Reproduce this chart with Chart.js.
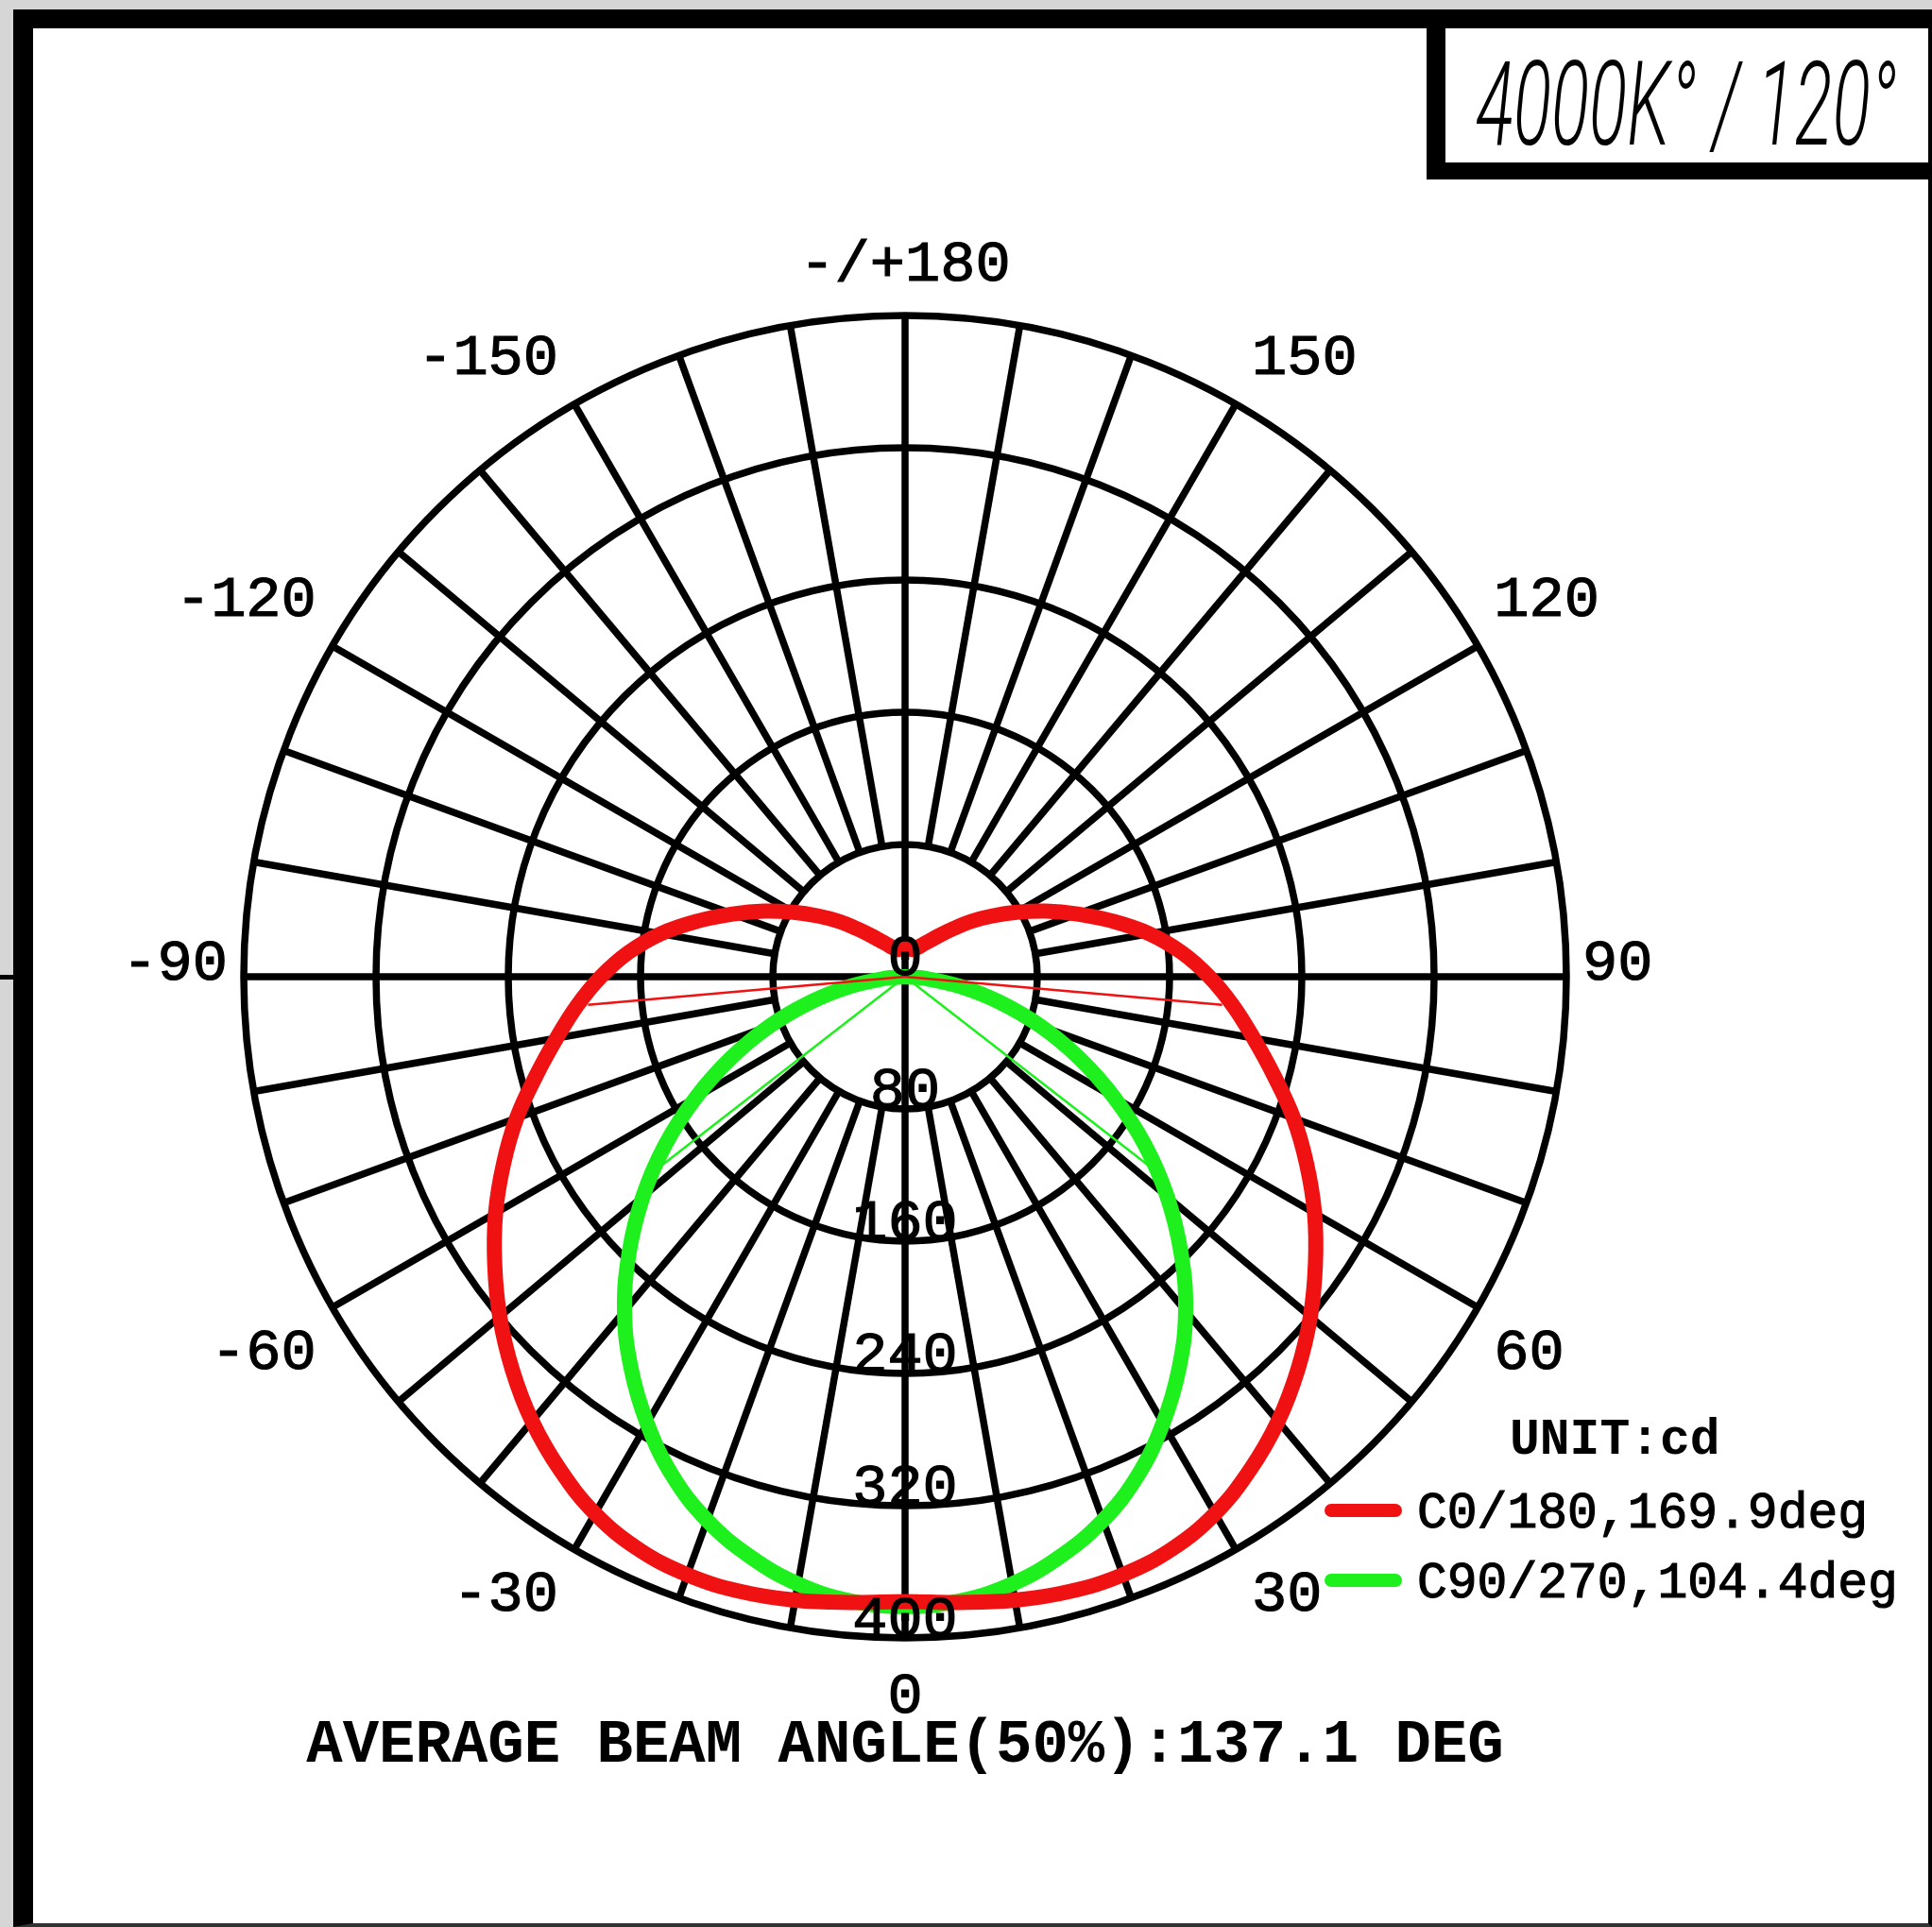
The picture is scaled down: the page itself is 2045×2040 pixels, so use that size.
<!DOCTYPE html>
<html>
<head>
<meta charset="utf-8">
<title>Polar intensity curve</title>
<script src="https://cdn.jsdelivr.net/npm/chart.js@4.4.1/dist/chart.umd.min.js"></script>
<style>
  html, body { margin: 0; padding: 0; }
  body { width: 2045px; height: 2040px; background: #d6d6d6; position: relative; overflow: hidden; }
  #sheet {
    position: absolute; left: 14px; top: 10px; width: 2031px; height: 2030px;
    box-sizing: border-box; background: #fff;
    border-left: 21px solid #000; border-top: 20px solid #000;
    border-right: 4px solid #000; border-bottom: 4px solid #333;
  }
  #stub { position: absolute; left: 0; top: 1032px; width: 14px; height: 5px; background: #000; }
  #badge {
    position: absolute; left: 1510px; top: 10px; width: 535px; height: 180px;
    box-sizing: border-box; border-left: 20px solid #000; border-bottom: 18px solid #000;
  }
  #badge span {
    position: absolute; left: 32px; top: 39px; white-space: pre;
    font: italic 300 124px/1 Roboto, "Liberation Sans", sans-serif;
    transform: scaleX(0.6); transform-origin: left top; color: #000;
  }
  canvas { position: absolute; left: 0; top: 0; }
  .txt { position: absolute; white-space: pre; color: #000; font-family: "Liberation Mono", "Courier New", monospace; line-height: 1; }
  .entry { -webkit-text-stroke: 1.2px #000; }
  .swatch { position: absolute; left: 1402px; width: 82px; height: 14px; border-radius: 7px; }
</style>
</head>
<body>
<div id="sheet"></div>
<div id="stub"></div>
<div id="badge"><span>4000K° / 120°</span></div>
<canvas id="polarChart" width="2045" height="2040"></canvas>
<div class="txt" style="left:1598px; top:1499px; font-size:53px; font-weight:bold;">UNIT:cd</div>
<div class="swatch" style="top:1592px; background:#f01212;"></div>
<div class="txt entry" id="legend-c0" style="left:1500px; top:1577px; font-size:53px;"></div>
<div class="swatch" style="top:1666px; background:#1ef01e;"></div>
<div class="txt entry" id="legend-c90" style="left:1500px; top:1651px; font-size:53px;"></div>
<div class="txt" id="caption" style="left:958px; top:1816px; font-size:64px; font-weight:bold; transform:translateX(-50%);"></div>
<script>
// gamma angles, 0 = straight down, 180 = straight up
const ANGLES = [
  -180, -175, -170, -165, -160, -155, -150, -145, -140, -135, -130, -125,
  -120, -115, -110, -105, -100, -95, -90, -85, -80, -75, -70, -65,
  -60, -55, -50, -45, -40, -35, -30, -25, -20, -15, -10, -5,
  0, 5, 10, 15, 20, 25, 30, 35, 40, 45, 50, 55,
  60, 65, 70, 75, 80, 85, 90, 95, 100, 105, 110, 115,
  120, 125, 130, 135, 140, 145, 150, 155, 160, 165, 170, 175, 180,
]
// intensity in cd, C0/180 plane
const C0_VALUES = [
  17, 17, 17, 17, 18, 20, 23, 27, 33, 41, 52, 64,
  78, 94, 111, 130, 150, 168, 184, 199, 214, 231, 250, 268,
  286, 303, 320, 336, 351, 364, 375, 382, 385, 385, 383, 380,
  378, 380, 383, 385, 385, 382, 375, 364, 351, 336, 320, 303,
  286, 268, 250, 231, 214, 199, 184, 168, 150, 130, 111, 94,
  78, 64, 52, 41, 33, 27, 23, 20, 18, 17, 17, 17, 17,
]
// intensity in cd, C90/270 plane
const C90_VALUES = [
  0, 0, 0, 0, 0, 0, 0, 0, 0, 0, 0, 0,
  0, 0, 0, 0, 0, 0, 0, 13, 34, 59, 87, 116,
  146, 177, 207, 236, 264, 289, 312, 333, 350, 363, 373, 379,
  381, 379, 373, 363, 350, 333, 312, 289, 264, 236, 207, 177,
  146, 116, 87, 59, 34, 13, 0, 0, 0, 0, 0, 0,
  0, 0, 0, 0, 0, 0, 0, 0, 0, 0, 0, 0, 0,
]
const SERIES_NAMES = ['C0/180', 'C90/270']
const BEAM_ANGLES = [169.9, 104.4]
const AVERAGE_BEAM = 137.1
const SERIES_COLORS = ['#f01212', '#1ef01e']

const RING_VALUES = [80, 160, 240, 320, 400]
const TICK_LABELS = ['0', '80', '160', '240', '320', '400']
const SPOKE_ANGLES = [
  -170, -160, -150, -140, -130, -120, -110, -100, -90, -80, -70, -60,
  -50, -40, -30, -20, -10, 0, 10, 20, 30, 40, 50, 60,
  70, 80, 90, 100, 110, 120, 130, 140, 150, 160, 170, 180,
]
const LABEL_ANGLES = [180, -150, -120, -90, -60, -30, 0, 30, 60, 90, 120, 150]
const ANGLE_LABELS = ['-/+180', '-150', '-120', '-90', '-60', '-30', '0', '30', '60', '90', '120', '150']

const LABEL_FONT = 62
const TICK_FONT = 62
const DIGIT_HEIGHT = 0.66

function toRad(deg) {
  return (deg * Math.PI) / 180
}

function polarPoint(deg, value) {
  const a = toRad(deg)
  return { x: value * Math.sin(a), y: -value * Math.cos(a) }
}

function toPoints(values) {
  return ANGLES.map((deg, i) => polarPoint(deg, values[i]))
}

function halfBeamLine(values, beam, side) {
  const half = Math.max(...values) / 2
  return [polarPoint(0, 0), polarPoint((side * beam) / 2, half)]
}

function pixelFor(chart, deg, value) {
  const p = polarPoint(deg, value)
  return {
    x: chart.scales.x.getPixelForValue(p.x),
    y: chart.scales.y.getPixelForValue(p.y),
  }
}

function drawText(ctx, text, x, y) {
  ctx.fillText(text, x, y)
  ctx.strokeText(text, x, y)
}

const polarGrid = {
  id: 'polarGrid',
  beforeDatasetsDraw(chart) {
    const { ctx } = chart
    const centre = pixelFor(chart, 0, 0)
    const outer = RING_VALUES[RING_VALUES.length - 1]

    ctx.save()
    ctx.strokeStyle = '#000'
    ctx.lineWidth = 7.5
    RING_VALUES.forEach((value) => {
      const radius = pixelFor(chart, 90, value).x - centre.x
      ctx.beginPath()
      ctx.arc(centre.x, centre.y, radius, 0, Math.PI * 2)
      ctx.stroke()
    })

    SPOKE_ANGLES.forEach((deg) => {
      // only the two main axes run through the centre
      const inner = deg % 90 === 0 ? 0 : RING_VALUES[0]
      const from = pixelFor(chart, deg, inner)
      const to = pixelFor(chart, deg, outer)
      ctx.beginPath()
      ctx.moveTo(from.x, from.y)
      ctx.lineTo(to.x, to.y)
      ctx.stroke()
    })
    ctx.restore()
  },
  afterDatasetsDraw(chart) {
    const { ctx } = chart
    const outer = RING_VALUES[RING_VALUES.length - 1]

    ctx.save()
    ctx.fillStyle = '#000'
    ctx.strokeStyle = '#000'
    ctx.lineWidth = 1.2
    ctx.textBaseline = 'alphabetic'

    // intensity ticks, read downwards along the 0 axis
    ctx.font = `${TICK_FONT}px "Liberation Mono"`
    ctx.textAlign = 'center'
    TICK_LABELS.forEach((label) => {
      const p = pixelFor(chart, 0, Number(label))
      drawText(ctx, label, p.x, p.y - 2)
    })

    // gamma angle labels round the outside
    ctx.font = `${LABEL_FONT}px "Liberation Mono"`
    const capHeight = LABEL_FONT * DIGIT_HEIGHT
    LABEL_ANGLES.forEach((deg, i) => {
      const p = pixelFor(chart, deg, outer)
      const s = Math.sin(toRad(deg))
      const c = Math.cos(toRad(deg))
      let tx = p.x
      let ty = p.y
      if (s > 0.01) {
        ctx.textAlign = 'left'
        tx += 17
      } else if (s < -0.01) {
        ctx.textAlign = 'right'
        tx -= 17
      } else {
        ctx.textAlign = 'center'
      }
      if (Math.abs(s) < 0.01) {
        ty = c > 0 ? p.y + 38 + capHeight : p.y - 37
      } else if (c > 0.01) {
        ty = p.y + 24 + capHeight
      } else if (c < -0.01) {
        ty = p.y - 32
      } else {
        ty = p.y + 3
      }
      drawText(ctx, ANGLE_LABELS[i], tx, ty)
    })
    ctx.restore()
  },
}

function curveDataset(values, color) {
  return {
    data: toPoints(values),
    showLine: true,
    borderColor: color,
    borderWidth: 16,
    borderJoinStyle: 'round',
    borderCapStyle: 'round',
    pointRadius: 0,
    tension: 0.4,
    fill: false,
  }
}

function beamDataset(points, color) {
  return {
    data: points,
    showLine: true,
    borderColor: color,
    borderWidth: 2.5,
    pointRadius: 0,
    fill: false,
  }
}

function initializeChart() {
  const canvas = document.getElementById('polarChart')
  if (!canvas || typeof Chart === 'undefined') {
    return null
  }

  const seriesValues = [C0_VALUES, C90_VALUES]
  const datasets = []
  seriesValues.forEach((values, i) => {
    datasets.push(beamDataset(halfBeamLine(values, BEAM_ANGLES[i], 1), SERIES_COLORS[i]))
    datasets.push(beamDataset(halfBeamLine(values, BEAM_ANGLES[i], -1), SERIES_COLORS[i]))
  })
  seriesValues.forEach((values, i) => {
    datasets.push(curveDataset(values, SERIES_COLORS[i]))
  })

  const outer = RING_VALUES[RING_VALUES.length - 1]

  return new Chart(canvas, {
    type: 'scatter',
    data: { datasets },
    options: {
      responsive: false,
      animation: false,
      events: [],
      layout: {
        padding: { left: 258, right: 387, top: 334, bottom: 306 },
      },
      scales: {
        x: { type: 'linear', min: -outer, max: outer, display: false },
        y: { type: 'linear', min: -outer, max: outer, display: false },
      },
      plugins: {
        legend: { display: false },
        tooltip: { enabled: false },
      },
    },
    plugins: [polarGrid],
  })
}

function fillTexts() {
  document.getElementById('legend-c0').textContent = `${SERIES_NAMES[0]},${BEAM_ANGLES[0].toFixed(1)}deg`
  document.getElementById('legend-c90').textContent = `${SERIES_NAMES[1]},${BEAM_ANGLES[1].toFixed(1)}deg`
  document.getElementById('caption').textContent = `AVERAGE BEAM ANGLE(50%):${AVERAGE_BEAM.toFixed(1)} DEG`
}

globalThis.addEventListener('DOMContentLoaded', () => {
  fillTexts()
  initializeChart()
})
</script>
</body>
</html>
